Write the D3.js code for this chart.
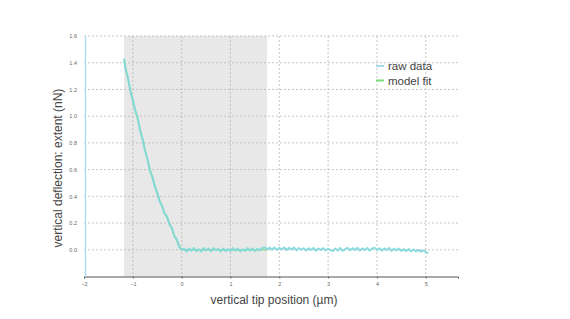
<!DOCTYPE html>
<html>
<head>
<meta charset="utf-8">
<script src="https://cdn.jsdelivr.net/npm/d3@7"></script>
<style>
  html, body { margin: 0; padding: 0; background: #fff; }
  svg { display: block; }
</style>
</head>
<body>
<svg id="chart" width="570" height="319"></svg>
<script>
// ---- data ----
const xTicks = [-2, -1, 0, 1, 2, 3, 4, 5];
const yTicks = [0.0, 0.2, 0.4, 0.6, 0.8, 1.0, 1.2, 1.4, 1.6];
const fitRegion = [-1.18, 1.75];

const approachPositions = [-1.18, -1.15, -1.10, -1.05, -1.00, -0.95, -0.90, -0.85, -0.80, -0.75,
  -0.70, -0.65, -0.60, -0.55, -0.50, -0.45, -0.40, -0.35, -0.30, -0.25, -0.20, -0.15, -0.10, -0.05, 0.00];
const approachRaw = [1.43, 1.355, 1.29, 1.185, 1.12, 1.04, 0.99, 0.89, 0.83, 0.74,
  0.68, 0.59, 0.55, 0.47, 0.43, 0.36, 0.33, 0.27, 0.25, 0.19, 0.165, 0.10, 0.08, 0.02, 0.0];
const approachFit = [1.42, 1.36, 1.28, 1.195, 1.115, 1.045, 0.975, 0.90, 0.825, 0.75,
  0.675, 0.60, 0.54, 0.48, 0.42, 0.37, 0.32, 0.275, 0.24, 0.20, 0.155, 0.11, 0.07, 0.03, 0.0];

const flatPositions = [0.05,0.10,0.15,0.20,0.25,0.30,0.35,0.40,0.45,0.50,0.55,0.60,0.65,0.70,0.75,0.80,0.85,0.90,0.95,1.00,
  1.05,1.10,1.15,1.20,1.25,1.30,1.35,1.40,1.45,1.50,1.55,1.60,1.65,1.70,1.75,1.80,1.85,1.90,1.95,2.00,
  2.05,2.10,2.15,2.20,2.25,2.30,2.35,2.40,2.45,2.50,2.55,2.60,2.65,2.70,2.75,2.80,2.85,2.90,2.95,3.00,
  3.05,3.10,3.15,3.20,3.25,3.30,3.35,3.40,3.45,3.50,3.55,3.60,3.65,3.70,3.75,3.80,3.85,3.90,3.95,4.00,
  4.05,4.10,4.15,4.20,4.25,4.30,4.35,4.40,4.45,4.50,4.55,4.60,4.65,4.70,4.75,4.80,4.85,4.90,4.95,5.00,5.05];
const flatRaw = [0.008,-0.013,0.010,-0.007,0.014,-0.010,0.004,-0.014,0.012,-0.006,0.009,-0.012,0.013,-0.004,0.007,-0.013,0.010,-0.009,0.006,-0.010,
  0.012,-0.007,0.009,-0.012,0.004,-0.009,0.013,-0.006,0.010,-0.010,0.007,-0.004,0.014,0.018,0.002,0.016,0.001,0.017,-0.001,0.015,
  0.003,0.017,-0.002,0.015,0.002,0.016,-0.005,0.013,0.000,0.012,-0.006,0.011,-0.002,0.013,-0.007,0.009,-0.001,0.012,-0.006,0.008,
  -0.002,-0.010,0.010,-0.005,0.013,-0.008,0.006,0.014,-0.004,0.012,-0.001,0.015,-0.006,0.010,-0.002,0.013,-0.005,0.009,0.016,-0.003,
  0.012,-0.006,0.010,-0.002,0.014,-0.008,0.008,-0.004,0.009,-0.009,0.005,-0.010,0.006,-0.011,0.002,-0.012,-0.001,-0.014,-0.004,-0.018,-0.026];
const flatFitPositions = [0.00, 1.75];
const flatFit = [0.0, 0.0];

const seriesNames = ["raw data", "model fit"];
const seriesColors = ["#a9d9ea", "#7ddc7d"];

// ---- layout ----
const svg = d3.select("#chart");
const x = d3.scaleLinear().domain([-2, 5.66]).range([84, 458]);
const y = d3.scaleLinear().domain([-0.2, 1.6]).range([276.5, 36]);

// shaded fit region
svg.append("rect")
  .attr("x", x(fitRegion[0])).attr("y", y(1.6))
  .attr("width", x(fitRegion[1]) - x(fitRegion[0]))
  .attr("height", y(-0.2) - y(1.6))
  .attr("fill", "#e8e8e8");

// grid
const grid = svg.append("g").attr("stroke", "#b8b8b8").attr("stroke-width", 0.8).attr("stroke-dasharray", "2,2");
grid.selectAll("line.h").data(yTicks).join("line")
  .attr("x1", x(-2)).attr("x2", x(5.66))
  .attr("y1", d => y(d)).attr("y2", d => y(d));
grid.selectAll("line.v").data(xTicks.filter(d => d > -2)).join("line")
  .attr("x1", d => x(d)).attr("x2", d => x(d))
  .attr("y1", y(1.6)).attr("y2", y(-0.2));

// axes
const xAxis = d3.axisBottom(x).tickValues(xTicks).tickSize(2).tickFormat(d3.format("d"));
const gx = svg.append("g").attr("transform", `translate(0,${y(-0.2)})`).call(xAxis);
gx.select(".domain").attr("stroke", "#555").attr("stroke-width", 1);
gx.selectAll(".tick line").attr("stroke", "#666");
gx.selectAll("text").attr("fill", "#666").style("font-size", "5.5px")
  .style("font-family", "Liberation Sans, Arial, sans-serif").attr("dy", "0.9em");

const yAxis = d3.axisLeft(y).tickValues(yTicks).tickSize(0).tickPadding(8).tickFormat(d3.format(".1f"));
const gy = svg.append("g").attr("transform", `translate(${x(-2) + 1},0)`).call(yAxis);
gy.select(".domain").attr("stroke", "#a3dcee").attr("stroke-width", 1.3);
gy.selectAll("text").attr("fill", "#666").style("font-size", "5.5px")
  .style("font-family", "Liberation Sans, Arial, sans-serif");

// lines
const line = d3.line().x(d => x(d[0])).y(d => y(d[1]));
const fitData = approachPositions.map((p, i) => [p, approachFit[i]])
  .concat(flatFitPositions.map((p, i) => [p, flatFit[i]]));
const rawData = approachPositions.map((p, i) => [p, approachRaw[i]])
  .concat(flatPositions.map((p, i) => [p, flatRaw[i]]));

svg.append("path").datum(fitData).attr("d", line)
  .attr("fill", "none").attr("stroke", "#8fe08f").attr("stroke-width", 1.6);
svg.append("path").datum(rawData).attr("d", line)
  .attr("fill", "none").attr("stroke", "#80d8dc").attr("stroke-width", 2)
  .attr("stroke-opacity", 0.9).attr("stroke-linejoin", "round");

// legend
const lg = svg.append("g");
seriesNames.forEach((name, i) => {
  const ly = 66 + i * 14.5;
  lg.append("line").attr("x1", 376).attr("x2", 384).attr("y1", ly).attr("y2", ly)
    .attr("stroke", seriesColors[i]).attr("stroke-width", 2);
  lg.append("text").attr("x", 388).attr("y", ly).attr("dy", "0.35em")
    .attr("fill", "#444").style("font-size", "11.5px")
    .style("font-family", "Liberation Sans, Arial, sans-serif").text(name);
});

// axis titles
svg.append("text").attr("x", 274).attr("y", 304).attr("text-anchor", "middle")
  .attr("fill", "#444").style("font-size", "12px")
  .style("font-family", "Liberation Sans, Arial, sans-serif")
  .text("vertical tip position (µm)");
svg.append("text").attr("transform", "translate(62,168) rotate(-90)").attr("text-anchor", "middle")
  .attr("fill", "#444").style("font-size", "12px")
  .style("font-family", "Liberation Sans, Arial, sans-serif")
  .text("vertical deflection: extent (nN)");
</script>
</body>
</html>
